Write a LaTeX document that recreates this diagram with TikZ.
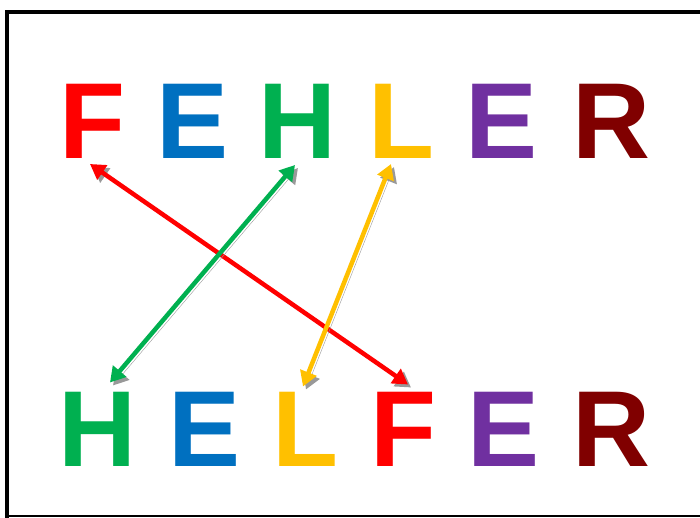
\documentclass[tikz,border=0pt]{standalone}
\usepackage{xcolor}
\usepackage{fontspec}
\setmainfont{Liberation Sans}
\usetikzlibrary{arrows.meta}

\definecolor{wordred}{HTML}{FF0000}
\definecolor{wordblue}{HTML}{0070C0}
\definecolor{wordgreen}{HTML}{00B050}
\definecolor{wordyellow}{HTML}{FFC000}
\definecolor{wordpurple}{HTML}{7030A0}
\definecolor{worddark}{HTML}{800000}

\begin{document}
\begin{tikzpicture}[x=1pt, y=-1pt,
  letter/.style={inner sep=0pt, anchor=base,
                 font=\fontsize{108}{110}\selectfont\bfseries},
  swaparrow/.style={{Triangle[length=15pt,width=17pt]}-{Triangle[length=15pt,width=17pt]},
               line width=4.5pt,
               preaction={draw=black!40, transform canvas={xshift=3pt,yshift=-3pt}}}
]
  \useasboundingbox (0,0) rectangle (700,518);

  % Frame
  \draw[line width=4pt] (720,12) -- (7,12) -- (7,518);
  \draw[line width=2pt] (7,516) -- (720,516);

  % Upper word
  \node[letter, text=wordred]    (fT) at (92.5,159) {F};
  \node[letter, text=wordblue]   (eT) at (193,159)  {E};
  \node[letter, text=wordgreen]  (hT) at (297.5,159) {H};
  \node[letter, text=wordyellow] (lT) at (401.5,159) {L};
  \node[letter, text=wordpurple] (e2T) at (502,159) {E};
  \node[letter, text=worddark]   (rT) at (611,159)  {R};

  % Lower word
  \node[letter, text=wordgreen]  (hB) at (97,466)   {H};
  \node[letter, text=wordblue]   (eB) at (204.5,466) {E};
  \node[letter, text=wordyellow] (lB) at (305,466)  {L};
  \node[letter, text=wordred]    (fB) at (403,466)  {F};
  \node[letter, text=wordpurple] (e2B) at (503.5,466) {E};
  \node[letter, text=worddark]   (rB) at (611,466)  {R};

  % Swapped letters
  \draw[swaparrow, wordred]    ([xshift=-2.5pt,yshift=-5pt]fT.base) -- ([xshift=5pt,yshift=7pt]fB.north);
  \draw[swaparrow, wordgreen]  ([xshift=-2.5pt,yshift=-6pt]hT.base) -- ([xshift=13pt,yshift=9pt]hB.north);
  \draw[swaparrow, wordyellow] ([xshift=-10.5pt,yshift=-5pt]lT.base) -- ([xshift=-2pt,yshift=5pt]lB.north);
\end{tikzpicture}
\end{document}
